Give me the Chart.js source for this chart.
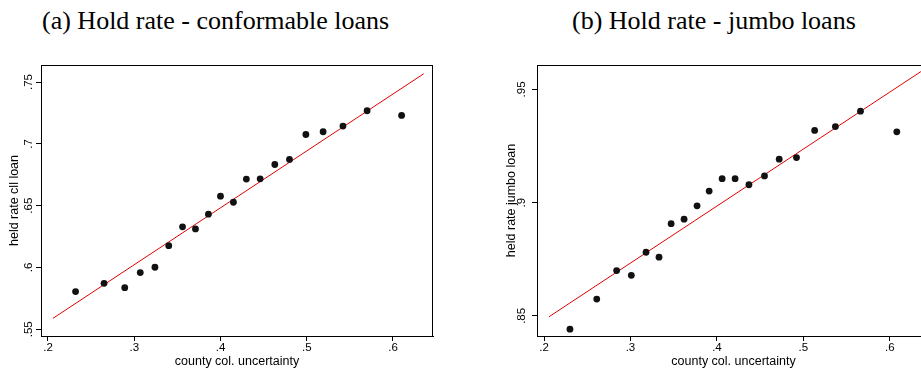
<!DOCTYPE html>
<html>
<head>
<meta charset="utf-8">
<script src="https://cdn.jsdelivr.net/npm/chart.js@4.4.1/dist/chart.umd.min.js"></script>
<style>
  html, body { margin: 0; padding: 0; background: #fff; overflow: hidden; }
  body { width: 921px; height: 370px; position: relative; }
  .panel-title {
    position: absolute; top: 8px; line-height: 26px; white-space: nowrap;
    font-family: "Liberation Serif", "Times New Roman", serif; font-size: 26px; color: #000;
  }
  .box { position: absolute; top: 50px; height: 320px; }
  .box canvas { display: block; }
</style>
</head>
<body>
<div class="panel-title" style="left:42px">(a) Hold rate - conformable loans</div>
<div class="panel-title" style="left:572px">(b) Hold rate - jumbo loans</div>
<div class="box" style="left:0; width:460px;"><canvas id="confChart"></canvas></div>
<div class="box" style="left:460px; width:480px;"><canvas id="jumboChart"></canvas></div>

<script>
/* ───────── data ───────── */
const xTickValues = [0.2, 0.3, 0.4, 0.5, 0.6];
const xTickLabels = ['.2', '.3', '.4', '.5', '.6'];

// (a) conformable loans
const confX = [0.232, 0.265, 0.289, 0.307, 0.324, 0.340, 0.356, 0.371, 0.386, 0.400,
               0.415, 0.430, 0.446, 0.463, 0.480, 0.499, 0.519, 0.542, 0.570, 0.610];
const confY = [0.5805, 0.5872, 0.5837, 0.5959, 0.6002, 0.6177, 0.6329, 0.6312, 0.6431, 0.6577,
               0.6528, 0.6715, 0.6717, 0.6833, 0.6874, 0.7076, 0.7098, 0.7144, 0.7268, 0.7230];
const confFitX = [0.2058, 0.6356];
const confFitY = [0.5589, 0.7567];
const confYTicks = [0.55, 0.6, 0.65, 0.7, 0.75];
const confYLabels = ['.55', '.6', '.65', '.7', '.75'];

// (b) jumbo loans
const jumboX = [0.230, 0.261, 0.284, 0.301, 0.318, 0.333, 0.347, 0.362, 0.377, 0.391,
                0.406, 0.421, 0.437, 0.455, 0.472, 0.492, 0.513, 0.537, 0.566, 0.608];
const jumboY = [0.8441, 0.8574, 0.8700, 0.8679, 0.8781, 0.8759, 0.8907, 0.8927, 0.8986, 0.9051,
                0.9106, 0.9106, 0.9079, 0.9118, 0.9192, 0.9199, 0.9319, 0.9336, 0.9404, 0.9313];
const jumboFitX = [0.2058, 0.6359];
const jumboFitY = [0.8496, 0.9579];
const jumboYTicks = [0.85, 0.9, 0.95];
const jumboYLabels = ['.85', '.9', '.95'];

const AXIS_FONT = "'Liberation Sans', Arial, sans-serif";

/* draws the full frame, rotated y tick labels and y title */
const framePlugin = {
  id: 'frame',
  afterDraw(chart, args, opts) {
    const { ctx, chartArea: a } = chart;
    const y = chart.scales.y;
    ctx.save();
    ctx.strokeStyle = '#000';
    ctx.lineWidth = 1;
    ctx.strokeRect(a.left + 0.5, a.top + 0.5, a.right - a.left - 1, a.bottom - a.top);

    ctx.fillStyle = '#000';
    ctx.textAlign = 'center';
    ctx.textBaseline = 'middle';
    ctx.font = '11.5px ' + AXIS_FONT;
    opts.tickValues.forEach((v, i) => {
      ctx.save();
      ctx.translate(opts.tickX, y.getPixelForValue(v));
      ctx.rotate(-Math.PI / 2);
      ctx.fillText(opts.tickLabels[i], 0, 0);
      ctx.restore();
    });
    ctx.font = '12.5px ' + AXIS_FONT;
    ctx.translate(opts.titleX, (a.top + a.bottom) / 2);
    ctx.rotate(-Math.PI / 2);
    ctx.fillText(opts.title, 0, 0);
    ctx.restore();
  }
};

function makeChart(id, xs, ys, fitX, fitY, yMin, yMax, yTicks, yLabels, yTitle, yAxisW, padRight, tickX, titleX) {
  const points = xs.map((x, i) => ({ x: x, y: ys[i] }));
  const fit = fitX.map((x, i) => ({ x: x, y: fitY[i] }));
  return new Chart(document.getElementById(id), {
    type: 'scatter',
    data: {
      datasets: [{
        data: points,
        pointRadius: 3.4,
        pointHoverRadius: 3.4,
        backgroundColor: '#111',
        borderWidth: 0
      }, {
        type: 'line',
        data: fit,
        borderColor: '#e00000',
        borderWidth: 1,
        pointRadius: 0,
        fill: false
      }]
    },
    options: {
      responsive: true,
      maintainAspectRatio: false,
      animation: false,
      events: [],
      layout: { padding: { top: 15, right: padRight, left: 0, bottom: 0 } },
      plugins: {
        legend: { display: false },
        tooltip: { enabled: false },
        frame: { tickValues: yTicks, tickLabels: yLabels, title: yTitle, tickX: tickX, titleX: titleX }
      },
      scales: {
        x: {
          type: 'linear',
          min: 0.1919,
          max: 0.6464,
          afterBuildTicks: (s) => { s.ticks = xTickValues.map(v => ({ value: v })); },
          afterFit: (s) => { s.height = 34; },
          grid: { drawOnChartArea: false, drawTicks: true, tickLength: 5, color: '#000', lineWidth: 1 },
          border: { display: true, color: '#000', width: 1 },
          ticks: {
            color: '#000',
            font: { family: AXIS_FONT, size: 11.5 },
            padding: 0,
            maxRotation: 0,
            callback: (v, i) => xTickLabels[i]
          },
          title: {
            display: true,
            text: 'county col. uncertainty',
            color: '#000',
            font: { family: AXIS_FONT, size: 12.5 },
            padding: { top: 0, bottom: 1 }
          }
        },
        y: {
          type: 'linear',
          min: yMin,
          max: yMax,
          afterBuildTicks: (s) => { s.ticks = yTicks.map(v => ({ value: v })); },
          afterFit: (s) => { s.width = yAxisW; },
          grid: { drawOnChartArea: false, drawTicks: true, tickLength: 5, color: '#000', lineWidth: 1 },
          border: { display: true, color: '#000', width: 1 },
          ticks: { display: false }
        }
      }
    },
    plugins: [framePlugin]
  });
}

makeChart('confChart', confX, confY, confFitX, confFitY, 0.5446, 0.7638,
          confYTicks, confYLabels, 'held rate cll loan', 41, 27, 29, 15);
makeChart('jumboChart', jumboX, jumboY, jumboFitX, jumboFitY, 0.8411, 0.9608,
          jumboYTicks, jumboYLabels, 'held rate jumbo loan', 77, 10, 62, 52);
</script>
</body>
</html>
